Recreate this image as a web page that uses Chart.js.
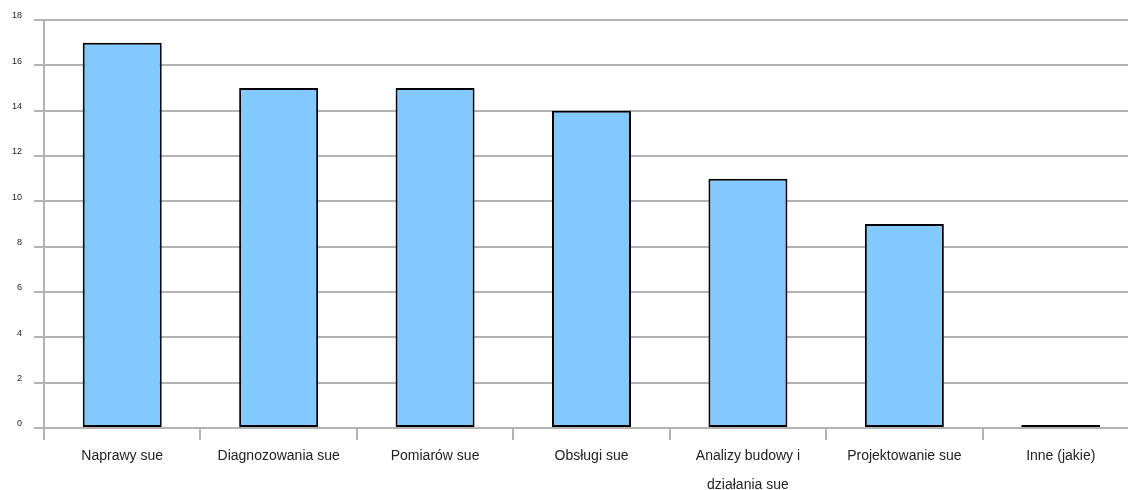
<!DOCTYPE html>
<html>
<head>
<meta charset="utf-8">
<script src="https://cdn.jsdelivr.net/npm/chart.js@4/dist/chart.umd.min.js"></script>
<style>
  html, body { margin:0; padding:0; background:#fff; overflow:hidden; }
  #wrap { width:1140px; height:490px; position:relative; }
</style>
</head>
<body>
<div id="wrap"><canvas id="chart"></canvas></div>
<script>
// --- Dane ---
const kategorie = [
  'Naprawy sue',
  'Diagnozowania sue',
  'Pomiarów sue',
  'Obsługi sue',
  ['Analizy budowy i', 'działania sue'],
  'Projektowanie sue',
  'Inne (jakie)'
];
const wartosci = [17, 15, 15, 14, 11, 9, 0];
const osY = { min: 0, max: 18, krok: 2 };

const kolorSlupka = '#82c9ff';
const kolorSiatki = '#b3b3b3';

const ctx = document.getElementById('chart').getContext('2d');
new Chart(ctx, {
  type: 'bar',
  data: {
    labels: kategorie,
    datasets: [{
      data: wartosci,
      // slupek o wartosci 0 rysowany jako czarna kreska
      backgroundColor: wartosci.map(v => v === 0 ? '#000' : kolorSlupka),
      borderColor: '#000',
      borderWidth: 2,
      borderSkipped: false,
      minBarLength: 3,
      barPercentage: 0.505,
      categoryPercentage: 1
    }]
  },
  options: {
    responsive: true,
    maintainAspectRatio: false,
    animation: false,
    layout: { padding: { top: 20, right: 1, left: 0, bottom: 0 } },
    plugins: { legend: { display: false }, tooltip: { enabled: false } },
    scales: {
      x: {
        grid: {
          offset: true,
          drawOnChartArea: false,
          color: kolorSiatki,
          lineWidth: 2,
          tickLength: 12
        },
        border: { display: false },
        ticks: {
          color: '#222',
          padding: 1,
          maxRotation: 0,
          autoSkip: false,
          font: { family: '"Liberation Sans", Arial, sans-serif', size: 14, lineHeight: 2.1 }
        },
        afterFit: s => { s.height = 62; }
      },
      y: {
        min: osY.min,
        max: osY.max,
        grid: { color: kolorSiatki, lineWidth: 2, tickLength: 10 },
        border: { color: kolorSiatki, width: 2 },
        ticks: {
          stepSize: osY.krok,
          color: '#222',
          padding: 12,
          labelOffset: -4,
          font: { family: '"Liberation Sans", Arial, sans-serif', size: 9 }
        },
        afterFit: s => { s.width = 44; }
      }
    }
  }
});
</script>
</body>
</html>
